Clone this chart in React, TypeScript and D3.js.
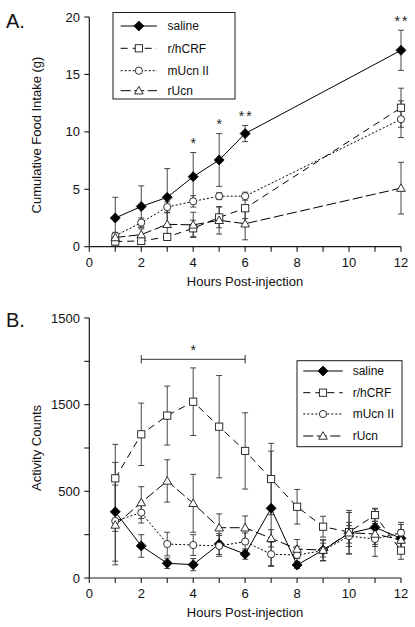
import React from "react";
import * as d3 from "d3";

// ---------- Data ----------
const hoursA = [1, 2, 3, 4, 5, 6, 12];
const salineA = [2.5, 3.5, 4.3, 6.1, 7.55, 9.85, 17.1];
const salineAErr = [1.8, 1.8, 2.5, 2.1, 2.3, 0.7, 1.75];
const crfA = [0.45, 0.5, 0.85, 1.6, 2.55, 3.35, 12.1];
const crfAErr = [0.3, 0.3, 0.3, 0.7, 0.9, 0.9, 1.7];
const ucn2A = [0.95, 2.1, 3.45, 3.95, 4.4, 4.4, 11.1];
const ucn2AErr = [0.3, 0.4, 0.45, 0.5, 0.3, 0.35, 1.6];
const ucnA = [0.8, 1.05, 1.95, 1.9, 2.3, 2.0, 5.1];
const ucnAErr = [0.3, 0.5, 1.0, 1.1, 1.2, 1.4, 2.25];

const hoursB = [1, 2, 3, 4, 5, 6, 7, 8, 9, 10, 11, 12];
const salineB = [382, 185, 85, 77, 196, 138, 402, 75, 161, 258, 292, 229];
const salineBErr = [285, 65, 30, 35, 60, 30, 330, 20, 60, 120, 110, 80];
const crfB = [575, 829, 937, 1017, 873, 733, 571, 411, 296, 265, 363, 158];
const crfBErr = [196, 180, 170, 195, 295, 220, 206, 100, 60, 125, 35, 50];
const ucn2B = [329, 377, 196, 190, 185, 210, 137, 133, 158, 242, 225, 261];
const ucn2BErr = [60, 60, 68, 60, 60, 50, 70, 50, 60, 60, 100, 60];
const ucnB = [306, 435, 560, 431, 290, 290, 229, 167, 161, 261, 254, 219];
const ucnBErr = [230, 92, 122, 167, 80, 68, 50, 55, 40, 60, 60, 60];

const seriesNames = ["saline", "r/hCRF", "mUcn II", "rUcn"];
const xTickLabels = ["0", "2", "4", "6", "8", "10", "12"];
const yTicksA = [0, 5, 10, 15, 20];
const yTicksB = [0, 250, 500, 750, 1000, 1250, 1500];
const yLabelsB = ["0", "500", "1500", "1500"];
const starsA = [
  { h: 4, v: 9.29, t: "*" },
  { h: 5, v: 10.88, t: "*" },
  { h: 6, v: 11.62, t: "**" },
  { h: 12, v: 19.89, t: "**" },
];

const FONT = "'Liberation Sans', Arial, Helvetica, sans-serif";
const INK = "#1a1a1a";

const styles = [
  { dash: null as string | null, marker: "diamond" },
  { dash: "7,5", marker: "square" },
  { dash: "2,2", marker: "circle" },
  { dash: "10,3.5", marker: "triangle" },
];

function Marker({ type, x, y }: { type: string; x: number; y: number }) {
  if (type === "diamond") {
    const s = 5;
    return <path d={`M${x},${y - s}L${x + s},${y}L${x},${y + s}L${x - s},${y}Z`} fill="#000" stroke="#000" strokeWidth={0.8} />;
  }
  if (type === "square") {
    return <rect x={x - 3.6} y={y - 3.6} width={7.2} height={7.2} fill="#fff" stroke={INK} strokeWidth={0.9} />;
  }
  if (type === "circle") {
    return <circle cx={x} cy={y} r={3.6} fill="#fff" stroke={INK} strokeWidth={0.9} />;
  }
  const s = 4.3;
  return <path d={`M${x},${y - s}L${x + s},${y + s * 0.75}L${x - s},${y + s * 0.75}Z`} fill="#fff" stroke={INK} strokeWidth={0.9} />;
}

function Panel({
  hours, series, errs, y, yTicks, yLabelVals, yLabelText, yTitle, yTitleCenter,
}: any) {
  const x = d3.scaleLinear().domain([0, 12]).range([89.3, 401]);
  const line = d3.line<[number, number]>().x((d) => x(d[0])).y((d) => y(d[1]));
  const [y0, y1] = y.range();
  const xTicks = d3.range(0, 13, 1);
  return (
    <g>
      {/* axes */}
      <line x1={x(0)} x2={x(0)} y1={y1} y2={y0} stroke={INK} strokeWidth={1.2} />
      <line x1={x(0)} x2={x(12)} y1={y0} y2={y0} stroke={INK} strokeWidth={1.2} />
      {xTicks.map((t: number) => (
        <line key={"xt" + t} x1={x(t)} x2={x(t)} y1={y0} y2={y0 + 5} stroke={INK} strokeWidth={1.1} />
      ))}
      {xTickLabels.map((lab, i) => (
        <text key={"xl" + i} x={x(i * 2)} y={y0 + 20} textAnchor="middle" fontSize={13} fontFamily={FONT} fill="#111">{lab}</text>
      ))}
      {yTicks.map((t: number) => (
        <line key={"yt" + t} x1={x(0) - 5} x2={x(0)} y1={y(t)} y2={y(t)} stroke={INK} strokeWidth={1.1} />
      ))}
      {yLabelVals.map((v: number, i: number) => (
        <text key={"yl" + i} x={80} y={y(v) + 4.5} textAnchor="end" fontSize={13} fontFamily={FONT} fill="#111">{yLabelText[i]}</text>
      ))}
      <text x={245} y={y0 + 39} textAnchor="middle" fontSize={13} fontFamily={FONT} fill="#111">Hours Post-injection</text>
      <text transform={`translate(41,${yTitleCenter}) rotate(-90)`} textAnchor="middle" fontSize={13} fontFamily={FONT} fill="#111">{yTitle}</text>
      {/* error bars */}
      {series.map((vals: number[], si: number) =>
        vals.map((v: number, i: number) => {
          const e = errs[si][i];
          const cx = x(hours[i]);
          return (
            <g key={"e" + si + "-" + i} stroke="#333" strokeWidth={0.9}>
              <line x1={cx} x2={cx} y1={y(v - e)} y2={y(v + e)} />
              <line x1={cx - 3} x2={cx + 3} y1={y(v + e)} y2={y(v + e)} />
              <line x1={cx - 3} x2={cx + 3} y1={y(v - e)} y2={y(v - e)} />
            </g>
          );
        })
      )}
      {/* lines */}
      {series.map((vals: number[], si: number) => (
        <path key={"l" + si} d={line(vals.map((v, i) => [hours[i], v]) as [number, number][]) || ""} fill="none" stroke="#000" strokeWidth={1} strokeDasharray={styles[si].dash || undefined} />
      ))}
      {/* markers */}
      {series.map((vals: number[], si: number) =>
        vals.map((v: number, i: number) => (
          <Marker key={"m" + si + "-" + i} type={styles[si].marker} x={x(hours[i])} y={y(v)} />
        ))
      )}
    </g>
  );
}

function Legend({ x0, y0, w, h, rowY, lineX0, lineX1, textX }: any) {
  return (
    <g>
      <rect x={x0} y={y0} width={w} height={h} fill="#fff" stroke={INK} strokeWidth={1} />
      {seriesNames.map((n, i) => (
        <g key={n}>
          <line x1={lineX0} x2={lineX1} y1={rowY[i]} y2={rowY[i]} stroke="#000" strokeWidth={1} strokeDasharray={styles[i].dash || undefined} />
          <Marker type={styles[i].marker} x={(lineX0 + lineX1) / 2} y={rowY[i]} />
          <text x={textX} y={rowY[i] + 4.3} fontSize={12} fontFamily={FONT} fill="#111">{n}</text>
        </g>
      ))}
    </g>
  );
}

export default function App() {
  const yA = d3.scaleLinear().domain([0, 20]).range([246.7, 17]);
  const yB = d3.scaleLinear().domain([0, 1500]).range([578, 318]);
  const xS = d3.scaleLinear().domain([0, 12]).range([89.3, 401]);
  return (
    <svg width={415} height={627} style={{ position: "absolute", left: 0, top: 0, background: "#fff" }}>
      <rect width={415} height={627} fill="#fff" />
      <text x={6} y={28} fontSize={20} fontFamily={FONT} fill="#111">A.</text>
      <text x={6} y={327} fontSize={20} fontFamily={FONT} fill="#111">B.</text>

      <Panel
        hours={hoursA}
        series={[salineA, crfA, ucn2A, ucnA]}
        errs={[salineAErr, crfAErr, ucn2AErr, ucnAErr]}
        y={yA}
        yTicks={yTicksA}
        yLabelVals={yTicksA}
        yLabelText={yTicksA.map(String)}
        yTitle="Cumulative Food Intake (g)"
        yTitleCenter={135}
      />
      {starsA.map((s, i) => (
        <text key={"s" + i} x={xS(s.h) + (s.t.length > 1 ? 1 : 0)} y={yA(s.v) + 7.7} textAnchor="middle" fontSize={14} letterSpacing={s.t.length > 1 ? 2 : 0} fontFamily={FONT} fill="#222">{s.t}</text>
      ))}
      <Legend x0={113} y0={12.5} w={122} h={86.5} rowY={[26, 48.3, 70.7, 90.7]} lineX0={120.7} lineX1={157} textX={167.5} />

      <Panel
        hours={hoursB}
        series={[salineB, crfB, ucn2B, ucnB]}
        errs={[salineBErr, crfBErr, ucn2BErr, ucnBErr]}
        y={yB}
        yTicks={yTicksB}
        yLabelVals={[0, 500, 1000, 1500]}
        yLabelText={yLabelsB}
        yTitle="Activity Counts"
        yTitleCenter={448}
      />
      {/* significance bracket */}
      <g stroke="#333" strokeWidth={1}>
        <line x1={xS(2)} x2={xS(6)} y1={359.3} y2={359.3} />
        <line x1={xS(2)} x2={xS(2)} y1={355} y2={363.5} />
        <line x1={xS(6)} x2={xS(6)} y1={355} y2={363.5} />
      </g>
      <text x={xS(4)} y={355} textAnchor="middle" fontSize={14} fontFamily={FONT} fill="#222">*</text>
      <Legend x0={297} y0={360.7} w={105} h={86} rowY={[371, 392.7, 414, 436]} lineX0={303.3} lineX1={342.7} textX={352.7} />
    </svg>
  );
}
